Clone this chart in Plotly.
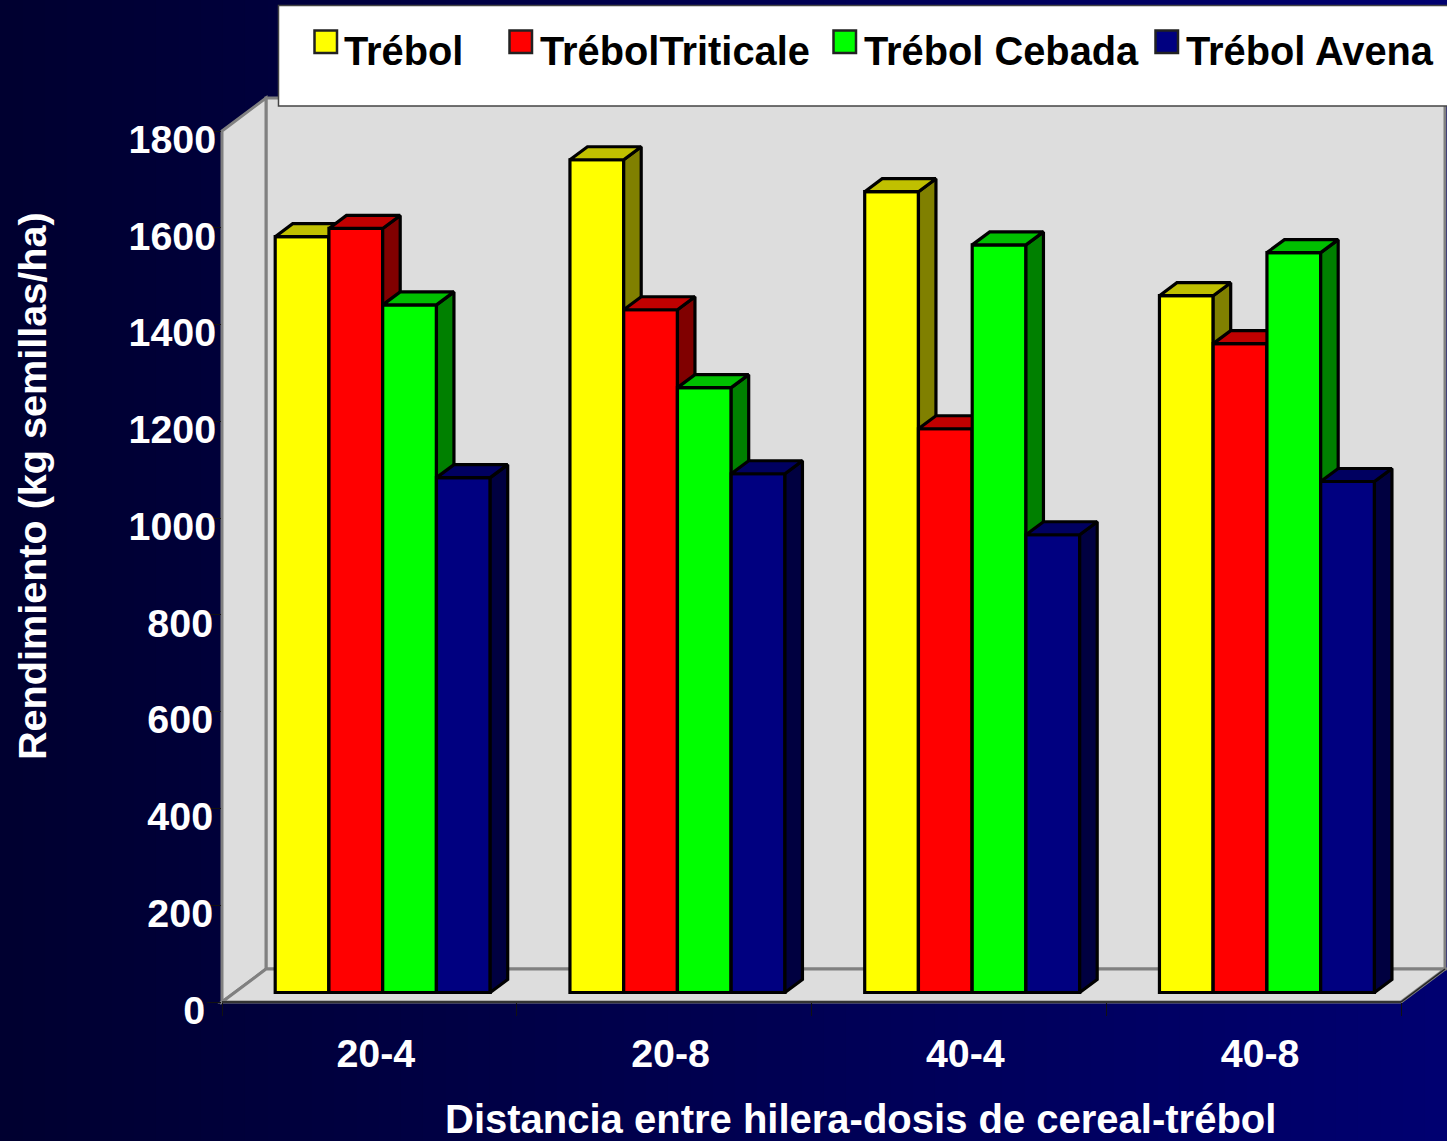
import plotly.graph_objects as go

# ---- data ----
categories = ["20-4", "20-8", "40-4", "40-8"]
series_names = ["Trébol", "TrébolTriticale", "Trébol Cebada", "Trébol Avena"]
trebol = [1562, 1721, 1655, 1440]
trebol_triticale = [1579, 1411, 1165, 1341]
trebol_cebada = [1421, 1250, 1545, 1529]
trebol_avena = [1064, 1072, 946, 1056]
y_ticks = [0, 200, 400, 600, 800, 1000, 1200, 1400, 1600, 1800]

series_values = [trebol, trebol_triticale, trebol_cebada, trebol_avena]
front_colors = ["#FFFF00", "#FF0000", "#00FF00", "#000080"]
top_colors = ["#C0C000", "#C00000", "#00C000", "#000060"]
side_colors = ["#808000", "#800000", "#008000", "#000040"]

W, H = 1447, 1141
X0, X1 = 222, 1401       # front floor edge, px
Y0, Y1 = 1002, 131       # value 0 and 1800, px
PX_X = (X1 - X0) / 4
PX_Y = (Y0 - Y1) / 1800


def px(v):
    return v / W


def py(v):
    return 1 - v / H


shapes = []
# background: horizontal gradient in one-level steps of blue
LEFT, RIGHT = 0x30, 0x70
steps = RIGHT - LEFT + 1
for i in range(steps):
    shapes.append(dict(type="rect", xref="paper", yref="paper", layer="below",
                       x0=i / steps, x1=min(1, (i + 1.5) / steps), y0=0, y1=1,
                       fillcolor=f"rgb(0,0,{LEFT + i})", line_width=0))

WALL_DX, WALL_DY = 44, 33
WALL = "#DDDDDD"
EDGE = "#808080"
# back wall
shapes.append(dict(type="rect", xref="paper", yref="paper", layer="below",
                   x0=px(X0 + WALL_DX), x1=px(X1 + WALL_DX),
                   y0=py(Y0 - WALL_DY), y1=py(Y1 - WALL_DY),
                   fillcolor=WALL, line=dict(color=EDGE, width=3)))
# side wall
shapes.append(dict(type="path", xref="paper", yref="paper", layer="below",
                   path=f"M{px(X0)},{py(Y1)} L{px(X0 + WALL_DX)},{py(Y1 - WALL_DY)} "
                        f"L{px(X0 + WALL_DX)},{py(Y0 - WALL_DY)} L{px(X0)},{py(Y0)} Z",
                   fillcolor=WALL, line=dict(color=EDGE, width=3)))
# floor
shapes.append(dict(type="path", xref="paper", yref="paper", layer="below",
                   path=f"M{px(X0)},{py(Y0)} L{px(X0 + WALL_DX)},{py(Y0 - WALL_DY)} "
                        f"L{px(X1 + WALL_DX)},{py(Y0 - WALL_DY)} L{px(X1)},{py(Y0)} Z",
                   fillcolor=WALL, line=dict(color=EDGE, width=3)))
# re-draw the floor's front edge in dark
shapes.append(dict(type="line", xref="paper", yref="paper", layer="below",
                   x0=px(X0), x1=px(X1), y0=py(Y0), y1=py(Y0),
                   line=dict(color="#333333", width=2)))
shapes.append(dict(type="line", xref="paper", yref="paper", layer="below",
                   x0=px(X1), x1=px(X1 + WALL_DX), y0=py(Y0), y1=py(Y0 - WALL_DY),
                   line=dict(color="#222222", width=1.5)))

# legend box and swatches (above everything)
shapes.append(dict(type="rect", xref="paper", yref="paper", layer="above",
                   x0=px(278.5), x1=px(1460), y0=py(106), y1=py(5.5),
                   fillcolor="#FFFFFF", line=dict(color="#444444", width=1.5)))
swatch_x = [314.5, 509.5, 833.5, 1155.5]
label_x = [342, 537.5, 862, 1184]
for sx, c in zip(swatch_x, front_colors):
    shapes.append(dict(type="rect", xref="paper", yref="paper", layer="above",
                       x0=px(sx), x1=px(sx + 22.5), y0=py(53), y1=py(30.5),
                       fillcolor=c, line=dict(color="#222222", width=2.5)))

FONT = "Liberation Sans, Arial, sans-serif"
annotations = []
for lx, name in zip(label_x, series_names):
    annotations.append(dict(text=f"<b>{name}</b>", xref="paper", yref="paper",
                            x=px(lx), y=py(51), xanchor="left", yanchor="middle",
                            showarrow=False, font=dict(family=FONT, size=39.8, color="#000000")))
annotations.append(dict(text="<b>Distancia entre hilera-dosis de cereal-trébol</b>",
                        xref="paper", yref="paper", x=px(860.5), y=py(1119),
                        xanchor="center", yanchor="middle", showarrow=False,
                        font=dict(family=FONT, size=40, color="#FFFFFF")))
annotations.append(dict(text="<b>Rendimiento (kg semillas/ha)</b>",
                        xref="paper", yref="paper", x=px(32), y=py(486), textangle=-90,
                        xanchor="center", yanchor="middle", showarrow=False,
                        font=dict(family=FONT, size=39.6, color="#FFFFFF")))

fig = go.Figure()

# bar geometry in axis units
GROUP_LEFT = 53.2 / PX_X    # gap from category start to first bar
BAR_W = 53.75 / PX_X
DEPTH_X = 17.5 / PX_X
DEPTH_Y = 13 / PX_Y
BASE = 9.5 / PX_Y           # bars stand back from the floor's front edge

LINE = dict(color="#000000", width=3.2)
n_series = len(series_values)
for s, values in enumerate(series_values):
    axis_id = "" if s == 0 else str(s + 1)
    xa, ya = f"x{axis_id}", f"y{axis_id}"
    x_centers = [c + GROUP_LEFT + BAR_W * (s + 0.5) for c in range(len(categories))]
    fig.add_trace(go.Bar(x=x_centers, y=values, base=BASE, width=BAR_W, name=series_names[s],
                         marker=dict(color=front_colors[s], line=LINE),
                         xaxis=xa, yaxis=ya, showlegend=False, hoverinfo="skip"))
    top_x, top_y, side_x, side_y = [], [], [], []
    for xc, v in zip(x_centers, values):
        l, r = xc - BAR_W / 2, xc + BAR_W / 2
        t = BASE + v
        top_x += [l, l + DEPTH_X, r + DEPTH_X, r, l, None]
        top_y += [t, t + DEPTH_Y, t + DEPTH_Y, t, t, None]
        side_x += [r, r + DEPTH_X, r + DEPTH_X, r, r, None]
        side_y += [t, t + DEPTH_Y, BASE + DEPTH_Y, BASE, t, None]
    fig.add_trace(go.Scatter(x=side_x, y=side_y, mode="lines", fill="toself", fillcolor=side_colors[s],
                             line=LINE, xaxis=xa, yaxis=ya, showlegend=False, hoverinfo="skip", cliponaxis=False))
    fig.add_trace(go.Scatter(x=top_x, y=top_y, mode="lines", fill="toself", fillcolor=top_colors[s],
                             line=LINE, xaxis=xa, yaxis=ya, showlegend=False, hoverinfo="skip", cliponaxis=False))


def y_label(t):
    # the reference sets short labels slightly in from the right edge
    if t == 0:
        return f"<b>{t}</b>&nbsp;"
    if t < 1000:
        return f'<b>{t}</b><span style="font-size:11px">&nbsp;</span>'
    return f"<b>{t}</b>"


x_domain = [px(X0), px(X1)]
y_domain = [py(Y0), py(Y1)]
tick_font = dict(family=FONT, size=39.4, color="#FFFFFF")
layout = dict(
    width=W, height=H, margin=dict(l=0, r=0, t=0, b=0),
    paper_bgcolor="#000050", plot_bgcolor="rgba(0,0,0,0)",
    barmode="overlay", shapes=shapes, annotations=annotations, showlegend=False,
    font=dict(family=FONT),
    xaxis=dict(domain=x_domain, range=[0, 4], showgrid=False, zeroline=False, showline=False,
               tickvals=[i + 0.522 for i in range(len(categories))], ticktext=[f"<b>{c}</b>" for c in categories],
               ticks="", tickfont=tick_font, ticklabelstandoff=25, automargin=False,
               minor=dict(tick0=0, dtick=1, ticks="outside", ticklen=13, tickwidth=1, tickcolor="#111111", showgrid=False)),
    yaxis=dict(domain=y_domain, range=[0, 1800], showgrid=False, zeroline=False, showline=False,
               tickvals=y_ticks, ticktext=[y_label(t) for t in y_ticks],
               ticks="outside", ticklen=14, tickwidth=1, tickcolor="#111111",
               tickfont=tick_font, ticklabelshift=8, ticklabelstandoff=-17, automargin=False),
)
for s in range(1, n_series):
    k = str(s + 1)
    layout["xaxis" + k] = dict(domain=x_domain, range=[0, 4], overlaying="x", visible=False)
    layout["yaxis" + k] = dict(domain=y_domain, range=[0, 1800], overlaying="y", visible=False)
fig.update_layout(**layout)

fig.write_html("out.html", config=dict(displayModeBar=False),
               post_script="document.body.style.margin='0';document.body.style.overflow='hidden';")
